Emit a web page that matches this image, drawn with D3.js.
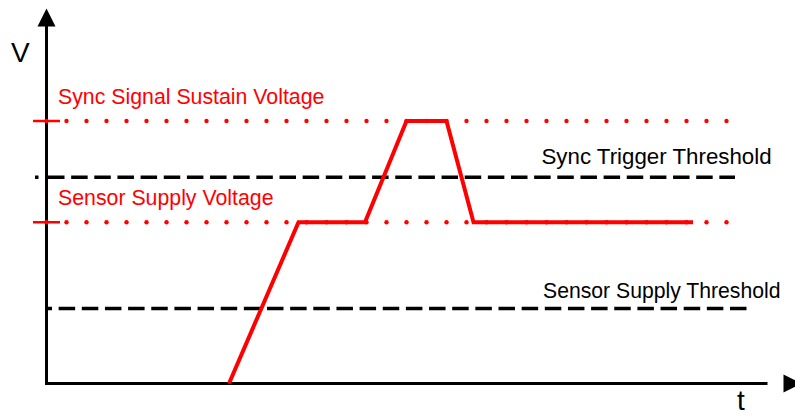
<!DOCTYPE html>
<html>
<head>
<meta charset="utf-8">
<script src="https://cdn.jsdelivr.net/npm/d3@7"></script>
<style>
  html, body { margin: 0; padding: 0; background: #fff; }
  svg { display: block; }
  text { font-family: "Liberation Sans", Arial, Helvetica, sans-serif; }
</style>
</head>
<body>
<svg id="chart" width="795" height="416"></svg>
<script>
// Voltage levels (V, arbitrary units) and their labels
const levelLabels = ["Sync Signal Sustain Voltage", "Sync Trigger Threshold", "Sensor Supply Voltage", "Sensor Supply Threshold"];
const levelValues = [3.5, 2.75, 2.15, 1.0];
const levelKinds  = ["voltage", "threshold", "voltage", "threshold"];

// Sensor signal trace: time and voltage at each corner
const signalTimes = [18.25, 25.2, 31.85, 36.0, 40.0, 42.7, 64.65];
const signalVolts = [0, 2.15, 2.15, 3.5, 3.5, 2.15, 2.15];

// Axis names
const axisLabels = ["V", "t"];

const RED = "#ff0000";
const svg = d3.select("#chart");

const x = d3.scaleLinear().domain([0, 75]).range([46.5, 796.5]);
const y = d3.scaleLinear().domain([0, 5]).range([383.5, 8.5]);

const x0 = x(0), y0 = y(0);

// dashed thresholds sit at the bottom of the stack
const dashG = svg.append("g");

// ---- axes with arrow heads ----
const axisG = svg.append("g");
axisG.append("line")
  .attr("x1", x0).attr("y1", y0 + 1.5).attr("x2", x0).attr("y2", y(5) + 16)
  .attr("stroke", "#000").attr("stroke-width", 3);
axisG.append("line")
  .attr("x1", x0 - 1.5).attr("y1", y0).attr("x2", x(73.7) - 16).attr("y2", y0)
  .attr("stroke", "#000").attr("stroke-width", 3);
axisG.append("path")
  .attr("d", `M${x0},${y(5)} L${x0 + 9},${y(5) + 18} L${x0 - 9},${y(5) + 18} Z`)
  .attr("fill", "#000");
const xt = x(75.5);
axisG.append("path")
  .attr("d", `M${xt},${y0} L${xt - 18},${y0 - 9} L${xt - 18},${y0 + 9} Z`)
  .attr("fill", "#000");

axisG.append("text").text(axisLabels[0])
  .attr("x", 11).attr("y", 62).attr("font-size", 28).attr("fill", "#000");
axisG.append("text").text(axisLabels[1])
  .attr("x", 737).attr("y", 410).attr("font-size", 28).attr("fill", "#000");

// ---- reference levels ----
const refG = svg.append("g");
levelValues.forEach((v, i) => {
  const yy = y(v);
  if (levelKinds[i] === "voltage") {
    // dotted red level with a tick on the V axis
    const dots = d3.range(0, 68.01, 2);
    refG.selectAll(null).data(dots).enter().append("circle")
      .attr("cx", d => x(d)).attr("cy", yy).attr("r", 2.2).attr("fill", RED);
    refG.append("line")
      .attr("x1", x0 - 13.5).attr("x2", x0 + 13.5).attr("y1", yy).attr("y2", yy)
      .attr("stroke", RED).attr("stroke-width", 2.5);
    refG.append("text").text(levelLabels[i])
      .attr("x", x(1.15)).attr("y", yy - 17.5)
      .attr("font-size", 21.3).attr("fill", RED);
  } else {
    const upper = v > 2;
    if (upper) {
      dashG.append("line")
        .attr("x1", x(-1.15)).attr("x2", x(-0.8)).attr("y1", yy).attr("y2", yy)
        .attr("stroke", "#000").attr("stroke-width", 3.5);
      dashG.append("line")
        .attr("x1", x(0.15)).attr("x2", x(68.85)).attr("y1", yy).attr("y2", yy)
        .attr("stroke", "#000").attr("stroke-width", 3.5)
        .attr("stroke-dasharray", "16.5 6.65");
      refG.append("text").text(levelLabels[i])
        .attr("x", x(49.5)).attr("y", yy - 13)
        .attr("font-size", 22.3).attr("fill", "#000");
    } else {
      dashG.append("line")
        .attr("x1", x(0)).attr("x2", x(70.05)).attr("y1", yy).attr("y2", yy)
        .attr("stroke", "#000").attr("stroke-width", 3.5)
        .attr("stroke-dasharray", "16.5 6.65")
        .attr("stroke-dashoffset", 11);
      refG.append("text").text(levelLabels[i])
        .attr("x", x(49.65)).attr("y", yy - 11)
        .attr("font-size", 21.2).attr("fill", "#000");
    }
  }
});

// ---- signal trace ----
const pts = signalTimes.map((t, i) => [t, signalVolts[i]]);
const line = d3.line().x(d => x(d[0])).y(d => y(d[1]));
svg.append("path")
  .attr("d", line(pts))
  .attr("fill", "none").attr("stroke", RED).attr("stroke-width", 4)
  .attr("stroke-linejoin", "miter");
</script>
</body>
</html>
